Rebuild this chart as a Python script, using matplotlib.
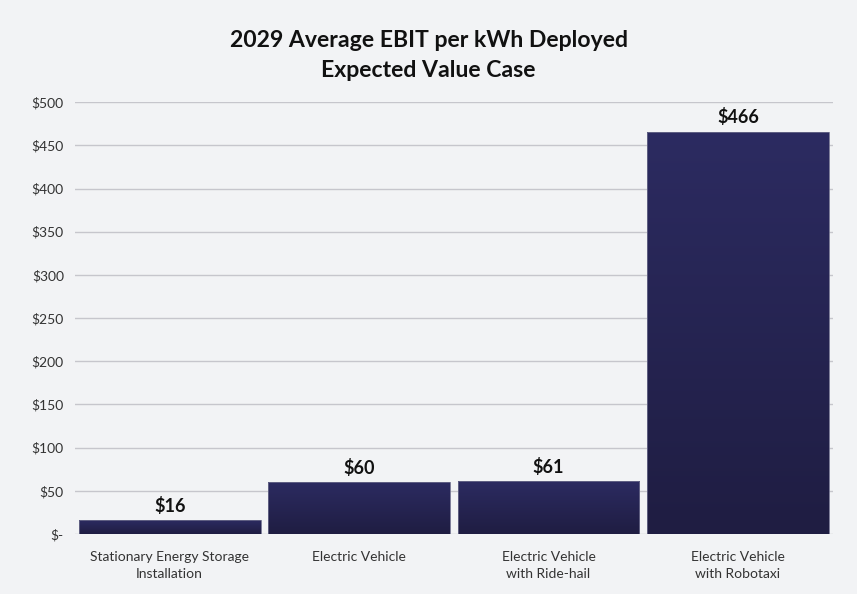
import numpy as np
import matplotlib.pyplot as plt
from matplotlib.colors import LinearSegmentedColormap

plt.rcParams['font.family'] = ['Lato', 'DejaVu Sans']

# Chart data
categories = ['Stationary Energy Storage\nInstallation', 'Electric Vehicle',
              'Electric Vehicle\nwith Ride-hail', 'Electric Vehicle\nwith Robotaxi']
values = [16, 60, 61, 466]
value_labels = ['$16', '$60', '$61', '$466']
yticks = [0, 50, 100, 150, 200, 250, 300, 350, 400, 450, 500]
ytick_labels = ['$-', '$50', '$100', '$150', '$200', '$250', '$300', '$350', '$400', '$450', '$500']

bg = '#f2f3f5'
grad = LinearSegmentedColormap.from_list('bar', ['#1f1d42', '#2c2b61'])

fig = plt.figure(figsize=(8.57, 5.94), dpi=100, facecolor=bg)
ax = fig.add_axes([0.0875, 0.101, 0.884, 0.727], facecolor=bg)

x = np.arange(len(categories))
bars = ax.bar(x, values, width=0.96, color='none', edgecolor='#6a6a8a', linewidth=0.6, zorder=3)

# vertical gradient inside each bar
g = np.linspace(0, 1, 256).reshape(-1, 1)
for b in bars:
    x0, w, h = b.get_x(), b.get_width(), b.get_height()
    im = ax.imshow(g, cmap=grad, aspect='auto', origin='lower',
                   extent=(x0, x0 + w, 0, h), zorder=2)
    im.set_clip_path(b)

for xi, v, lab in zip(x, values, value_labels):
    ax.text(xi, v + 6, lab, ha='center', va='bottom', fontsize=13,
            fontweight='bold', color='#111111')

ax.set_xlim(-0.5, 3.5)
ax.set_ylim(0, 500)
ax.set_yticks(yticks)
ax.set_yticklabels(ytick_labels, fontsize=10, color='#333333')
ax.set_xticks(x)
ax.set_xticklabels(categories, fontsize=10, color='#333333', linespacing=1.5)
ax.tick_params(length=0, pad=8)
ax.tick_params(axis='x', pad=12)
ax.grid(axis='y', color='#c6c6cc', linewidth=1, zorder=0)
for s in ax.spines.values():
    s.set_visible(False)

fig.text(0.5, 0.907, '2029 Average EBIT per kWh Deployed\nExpected Value Case',
         ha='center', va='center', fontsize=16.6, fontweight='bold',
         color='#111111', linespacing=1.55)

fig.savefig('out.png', dpi=100, facecolor=bg)
